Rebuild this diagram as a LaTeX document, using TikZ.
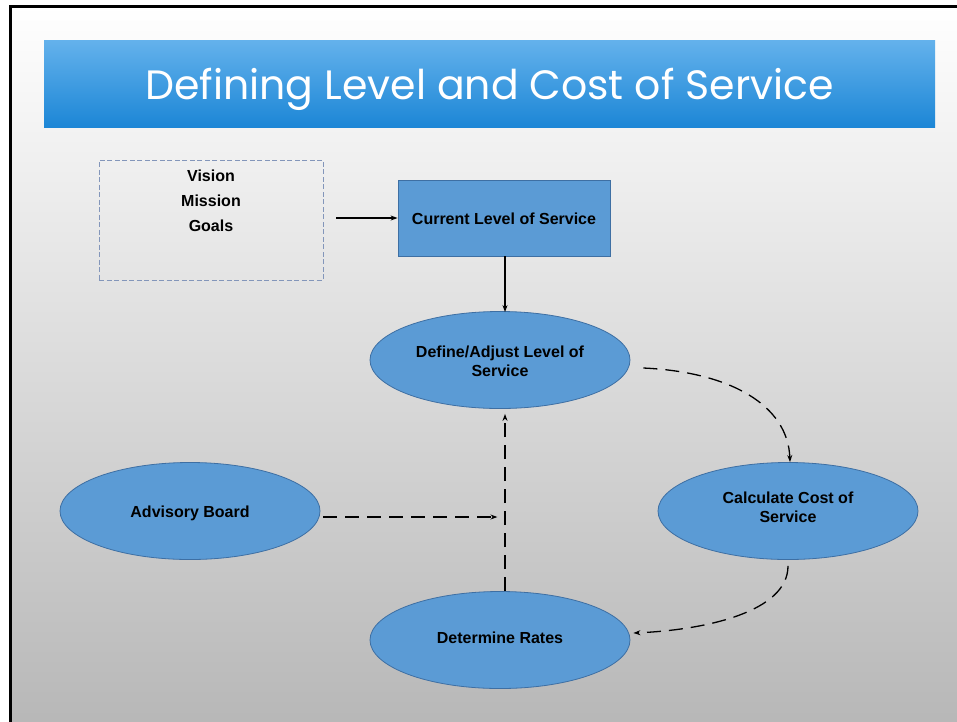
\documentclass[tikz,border=0pt]{standalone}
\usepackage{fontspec}
\setmainfont{Liberation Sans}
\newfontfamily\titlefont{Poppins}
\usetikzlibrary{calc,arrows.meta,shapes.geometric}
\definecolor{boxfill}{HTML}{5B9BD5}
\definecolor{boxline}{HTML}{3E6FA3}
\definecolor{titletop}{HTML}{64B2EC}
\definecolor{titlebot}{HTML}{1C86D6}
\definecolor{vmgline}{HTML}{8396BA}
\newcommand{\shiftv}[2]{\raisebox{#1}[\height][\depth]{#2}}
\newcommand{\twolines}[3]{\shiftv{#1}{\begin{tabular}{@{}c@{}}#2\\[1pt]#3\end{tabular}}}
\begin{document}
\begin{tikzpicture}[x=1pt,y=-1pt,
  lbl/.style={font=\fontsize{16}{18}\selectfont\bfseries, align=center, text=black},
  oval/.style={ellipse, draw=boxline, fill=boxfill, line width=0.8pt, minimum width=260pt, minimum height=97pt, inner sep=0pt, lbl},
  rectbox/.style={rectangle, draw=boxline, fill=boxfill, line width=0.8pt, minimum width=212pt, minimum height=76pt, inner sep=0pt, lbl},
  titlebar/.style={rectangle, top color=titletop, bottom color=titlebot, draw=none, minimum width=891pt, minimum height=87pt, inner sep=0pt, text=white, font=\titlefont\fontsize{41}{48}\selectfont},
  conn/.style={line width=1.3pt, -{Stealth[length=7pt,width=5pt]}},
  dconn/.style={conn, dash pattern=on 14pt off 8pt}
]
\useasboundingbox (0,0) rectangle (957,721);
\clip (0,0) rectangle (957,721);
\fill[white] (0,0) rectangle (957,721);
\shade[top color=white, middle color=black!10, bottom color=black!28] (10,6) rectangle (957,721);
\draw[line width=3pt] (10.5,740) -- (10.5,6.5) -- (980,6.5);

\node[titlebar] (title) at (489.5,83.5) {\shiftv{-6pt}{Defining Level and Cost of Service}};

\node[draw=vmgline, dash pattern=on 5pt off 2.5pt, line width=0.9pt, minimum width=224pt, minimum height=120pt, inner sep=0pt] (vmg) at (211,220) {};
\node[lbl, font=\fontsize{16}{25}\selectfont\bfseries] (vmgtext) at (211,201) {Vision\\Mission\\Goals};

\node[rectbox] (cur) at (504,218) {\shiftv{-1pt}{Current Level of Service}};
\node[oval] (def) at (500,360) {\twolines{-3pt}{Define/Adjust Level of}{Service}};
\node[oval] (calc) at (788,511) {\twolines{2pt}{Calculate Cost of}{Service}};
\node[oval] (adv) at (190,511) {\shiftv{-2pt}{Advisory Board}};
\node[oval] (det) at (500,640) {\shiftv{2pt}{Determine Rates}};

\draw[conn] ($(vmg.east)+(13,-2)$) -- (cur.west);
\draw[conn] ($(cur.south)+(1,0)$) -- ($(def.north)+(5,1)$);
\draw[dconn] ($(def.east)+(13,8)$) .. controls (730,372) and (788,405) .. ($(calc.north)+(2,0)$);
\draw[dconn] ($(calc.south)+(0,6)$) .. controls (788,612) and (705,630) .. ($(det.east)+(3,-7)$);
\draw[dconn] ($(det.north)+(5,0)$) -- ($(def.south)+(5,5)$);
\draw[dconn] ($(adv.east)+(3,6)$) -- ($(adv.east)+(177,6)$);
\end{tikzpicture}
\end{document}
